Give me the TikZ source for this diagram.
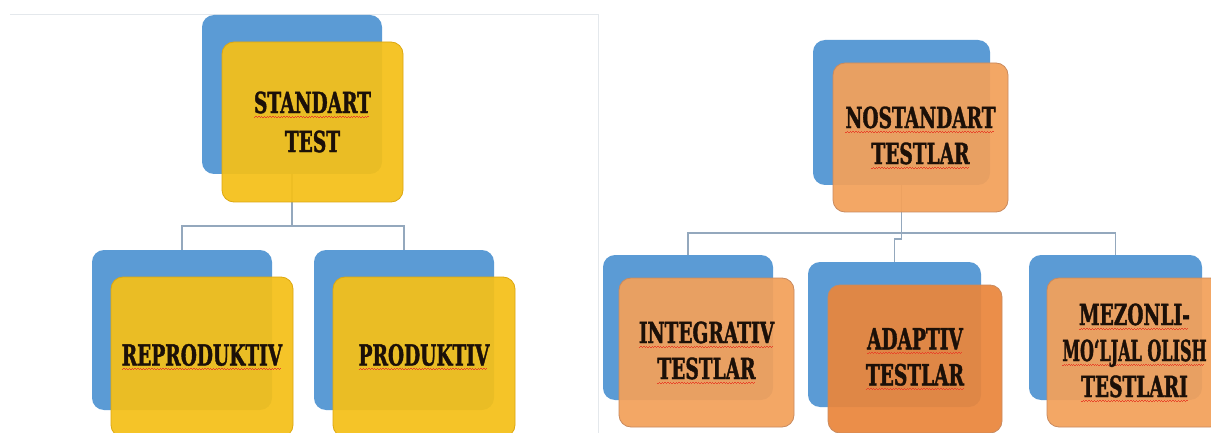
\documentclass[tikz,border=0pt]{standalone}
\usepackage{fontspec}
\usepackage{graphicx}
\newfontfamily\boxfont[FakeStretch=0.64, FakeBold=1.3]{DejaVu Serif}

\definecolor{backblue}{HTML}{5B9BD5}
\definecolor{frontyellow}{HTML}{F5C018}
\definecolor{yellowedge}{HTML}{DDA70F}
\definecolor{frontorange}{HTML}{F3A15A}
\definecolor{deeporange}{HTML}{EA863C}
\definecolor{orangeedge}{HTML}{C98A5E}
\definecolor{linkgray}{HTML}{94A8BD}
\definecolor{framegray}{HTML}{E4E8EC}
\definecolor{inkbrown}{HTML}{1C1008}
\definecolor{squigred}{HTML}{E8452A}

% red wavy underline under a label word
\newcommand\wavebit{\hbox{\rule{1.4pt}{0.8pt}\raisebox{0.8pt}{\rule{1.4pt}{0.8pt}}}}
\newcommand\squig[1]{\setbox0\hbox{#1}\leavevmode
  \rlap{\lower4.5pt\hbox to\wd0{\color{squigred}\leaders\wavebit\hfill}}\box0}

\tikzset{
  backbox/.style={rectangle, rounded corners=12pt, fill=backblue, inner sep=0pt},
  frontbox/.style={rectangle, rounded corners=12pt, fill=frontyellow, draw=yellowedge,
    line width=0.8pt, fill opacity=0.93, text opacity=1, inner sep=0pt, align=center,
    text=inkbrown, font=\boxfont\bfseries\fontsize{29}{36}\selectfont},
  orangebox/.style={frontbox, fill=frontorange, draw=orangeedge},
  link/.style={draw=linkgray, line width=1.3pt},
}

\begin{document}
\begin{tikzpicture}[x=1pt, y=-1pt]
\useasboundingbox (0,0) rectangle (1211,433);
\clip (0,0) rectangle (1211,433);
\fill[white] (0,0) rectangle (1211,433);

% frame of the left panel
\draw[framegray, line width=1pt] (10,15) -- (598,15) -- (598,433);

% ---------- left tree: back boxes ----------
\node[backbox, minimum width=180pt, minimum height=159pt] (sb) at (292,94.5) {};
\node[backbox, minimum width=180pt, minimum height=160pt] (rb) at (182,330) {};
\node[backbox, minimum width=180pt, minimum height=160pt] (pb) at (404,330) {};

% ---------- right tree: back boxes ----------
\node[backbox, minimum width=177pt, minimum height=145pt] (nb) at (901.5,112.5) {};
\node[backbox, minimum width=170pt, minimum height=145pt] (ib) at (688,327.5) {};
\node[backbox, minimum width=173pt, minimum height=145pt] (ab) at (894.5,334.5) {};
\node[backbox, minimum width=173pt, minimum height=145pt] (mb) at (1115.5,327.5) {};

% ---------- connectors ----------
\coordinate (lbus) at (292,226);
\coordinate (rbus) at (901.5,233);
\draw[link] (sb.south) -- (lbus);
\draw[link] (lbus) -| (rb.north);
\draw[link] (lbus) -| (pb.north);
\draw[link] (nb.south) -- (rbus);
\draw[link] (rbus) -| (ib.north);
\draw[link] (rbus) -| (mb.north);
\draw[link] (rbus) -- ++(0,6) -| (ab.north);

% ---------- front boxes with labels ----------
\node[frontbox, minimum width=181pt, minimum height=160pt] (sf) at (312.5,122)
  {\squig{STANDART}\\[3pt]TEST};
\node[frontbox, minimum width=182pt, minimum height=160pt] (rf) at (202,357)
  {\squig{REPRODUKTIV}};
\node[frontbox, minimum width=182pt, minimum height=160pt] (pf) at (424,357)
  {\squig{PRODUKTIV}};

\node[orangebox, minimum width=175pt, minimum height=149pt] (nf) at (920.5,137.5)
  {\squig{NOSTANDART}\\\squig{TESTLAR}};
\node[orangebox, minimum width=175pt, minimum height=149pt] (if) at (706.5,352.5)
  {\squig{INTEGRATIV}\\\squig{TESTLAR}};
\node[orangebox, fill=deeporange, minimum width=174pt, minimum height=148pt] (af) at (915,359)
  {\squig{ADAPTIV}\\\squig{TESTLAR}};
\node[orangebox, minimum width=175pt, minimum height=149pt] (mf) at (1134.5,352.5)
  {\squig{MEZONLI-}\\\scalebox{0.86}[1]{\squig{MO‘LJAL OLISH}}\\\squig{TESTLARI}};
\end{tikzpicture}
\end{document}
